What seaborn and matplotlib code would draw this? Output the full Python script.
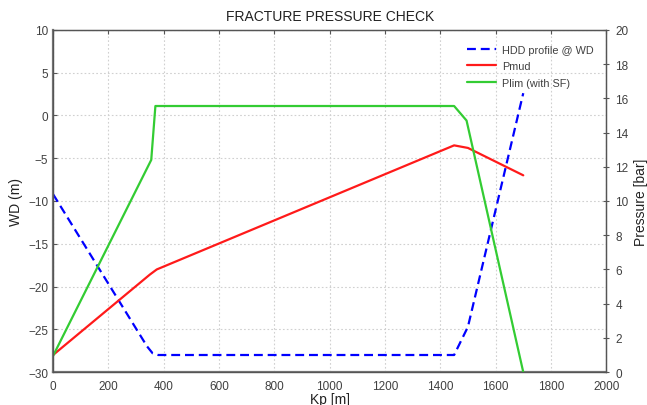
import numpy as np
import pandas as pd
import matplotlib
matplotlib.use('Agg')
import matplotlib.pyplot as plt
import seaborn as sns

# HDD profile (left axis, WD in m)
kp_hdd = [0, 340, 360, 380, 1450, 1500, 1700]
wd_hdd = [-9.2, -27.0, -27.8, -28.0, -28.0, -24.7, 2.6]

# mud pressure (right axis, bar)
kp_mud = [0, 350, 375, 1450, 1500, 1700]
p_mud = [1.0, 5.7, 6.0, 13.25, 13.1, 11.5]

# limit pressure with safety factor (right axis, bar)
kp_lim = [0, 355, 370, 1450, 1495, 1700]
p_lim = [0.95, 12.4, 15.55, 15.55, 14.7, 0.0]

sns.set_style('white')
plt.rcParams['font.family'] = ['Liberation Sans', 'DejaVu Sans']

txt = '#404040'
fig = plt.figure(figsize=(6.47, 4.06), dpi=100)
ax = fig.add_axes([0.082, 0.081, 0.855, 0.843])
ax2 = ax.twinx()

df_hdd = pd.DataFrame({'Kp': kp_hdd, 'WD': wd_hdd})
df_mud = pd.DataFrame({'Kp': kp_mud, 'P': p_mud})
df_lim = pd.DataFrame({'Kp': kp_lim, 'P': p_lim})

sns.lineplot(data=df_hdd, x='Kp', y='WD', ax=ax, sort=False, color='#0000ff',
             lw=1.6, label='HDD profile @ WD', legend=False)
ax.lines[-1].set_dashes((4, 2.2))
sns.lineplot(data=df_mud, x='Kp', y='P', ax=ax2, sort=False, color='#ff1a1a',
             lw=1.6, label='Pmud', legend=False)
sns.lineplot(data=df_lim, x='Kp', y='P', ax=ax2, sort=False, color='#33cc33',
             lw=1.6, label='Plim (with SF)', legend=False)

ax.set_xlim(0, 2000)
ax.set_ylim(-30, 10)
ax2.set_ylim(0, 20)
ax.set_xticks(np.arange(0, 2001, 200))
ax.set_yticks(np.arange(-30, 11, 5))
ax2.set_yticks(np.arange(0, 21, 2))

ax.grid(True, ls=(0, (1.5, 2)), color='#d0d0d0', lw=0.8)
ax.tick_params(axis='both', direction='in', length=3, labelsize=8.5,
               labelcolor=txt, color='#555555', top=True)
ax.tick_params(axis='x', pad=6)
ax2.tick_params(axis='y', direction='inout', length=5, labelsize=8.5,
                labelcolor=txt, color='#555555', pad=4)

for a in (ax, ax2):
    for s in a.spines.values():
        s.set_color('#555555')
        s.set_linewidth(0.9)
ax.spines['left'].set_linewidth(1.6)
ax.spines['bottom'].set_linewidth(1.6)
ax.spines['left'].set_color('#777777')
ax.spines['bottom'].set_color('#777777')

ax.set_xlabel('Kp [m]', fontsize=10, color='#222222', labelpad=0)
ax.set_ylabel('WD (m)', fontsize=10, color='#222222')
ax2.set_ylabel('Pressure [bar]', fontsize=10, color='#222222')
ax.set_title('FRACTURE PRESSURE CHECK', fontsize=10, color='#222222', pad=7)

h1, l1 = ax.get_legend_handles_labels()
h2, l2 = ax2.get_legend_handles_labels()
ax2.legend(h1 + h2, l1 + l2, loc='upper right', bbox_to_anchor=(0.995, 0.985),
           frameon=False, fontsize=7.8, handlelength=2.6, handletextpad=0.6,
           labelspacing=0.6, labelcolor=txt)

fig.savefig('out.png', dpi=100)
